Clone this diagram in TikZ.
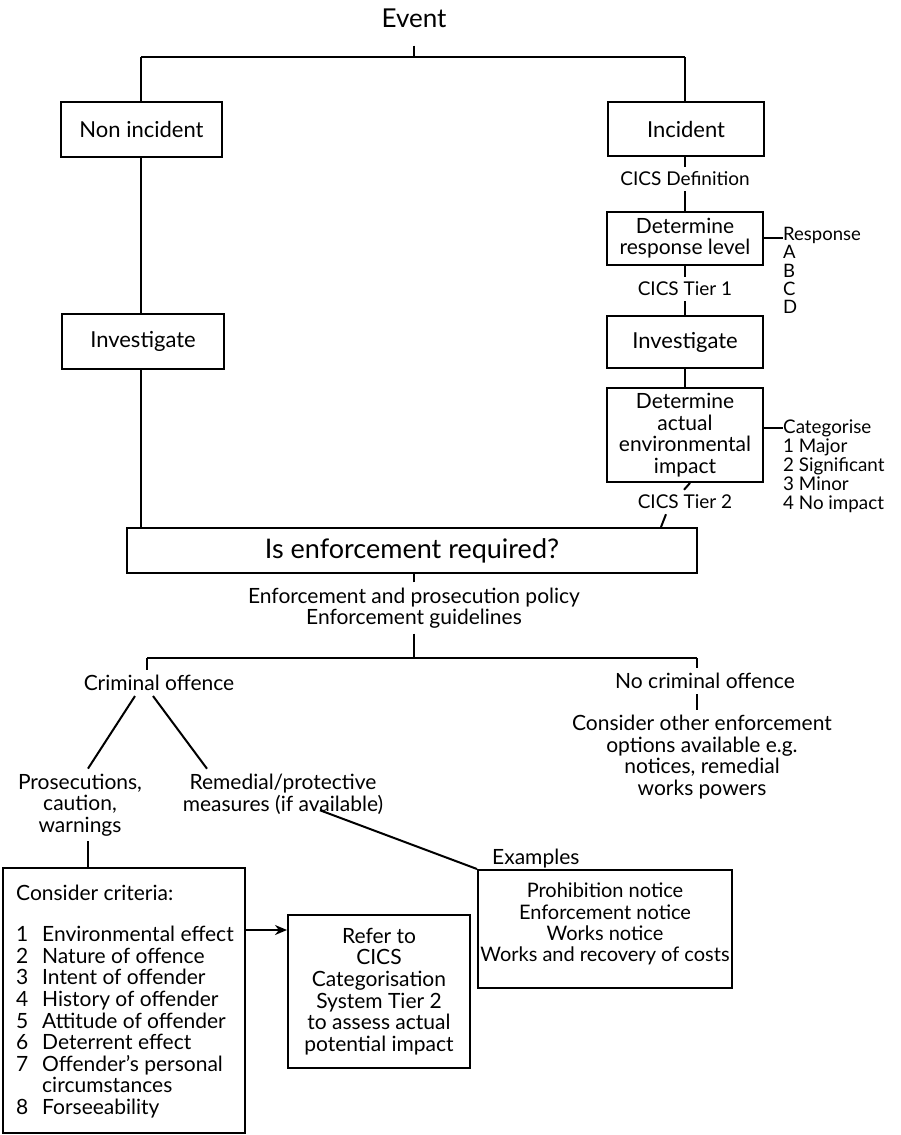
\documentclass[tikz,border=0pt]{standalone}
\usepackage{fontspec}
\setmainfont{Lato}
\usetikzlibrary{arrows.meta,calc}
\begin{document}
\begin{tikzpicture}[x=1pt,y=-1pt,
  every node/.style={font=\fontsize{21}{21.6}\selectfont, inner sep=0pt},
  box/.style={draw, line width=2pt, align=center},
  lbl/.style={align=center, inner ysep=5pt},
  cics/.style={lbl, font=\fontsize{19}{21}\selectfont},
  listtxt/.style={align=left, anchor=north west},
  conn/.style={line width=2pt},
]
\useasboundingbox (0,0) rectangle (900,1135);
% top part
\node[font=\fontsize{26}{28}\selectfont] (event) at (414,18) {Event};
\node[box, minimum width=161, minimum height=55, font=\fontsize{22}{22}\selectfont] (noninc) at (141.5,129.5) {Non incident};
\node[box, minimum width=156, minimum height=54, font=\fontsize{22}{22}\selectfont] (inc) at (686,129) {Incident};
\node[cics] (cdef) at (685,179) {CICS Definition};
\node[box, minimum width=156, minimum height=53] (resp) at (685,238) {Determine\\response level};
\node[cics] (t1) at (685,289) {CICS Tier 1};
\node[box, minimum width=156, minimum height=52, font=\fontsize{22}{22}\selectfont] (inv2) at (685,342) {Investigate};
\node[box, minimum width=156, minimum height=94] (det) at (685,435) {Determine\\actual\\environmental\\impact};
\node[cics] (t2) at (685,502) {CICS Tier 2};
\node[listtxt, font=\fontsize{18.5}{18.3}\selectfont] (rlist) at (783,227) {Response\\A\\B\\C\\D};
\node[listtxt, font=\fontsize{18.8}{18.8}\selectfont] (clist) at (783,420) {Categorise\\1 Major\\2 Significant\\3 Minor\\4 No impact};
\node[box, minimum width=162, minimum height=55, font=\fontsize{22}{22}\selectfont] (inv1) at (143,341.5) {Investigate};
\node[box, minimum width=570, minimum height=45, font=\fontsize{27}{28}\selectfont] (enf) at (412,550.5) {Is enforcement required?};
% middle
\node[lbl] (pol) at (414,608) {Enforcement and prosecution policy\\Enforcement guidelines};
\node[lbl] (crim) at (159,683) {Criminal offence};
\node[lbl] (nocrim) at (705,681) {No criminal offence};
\node[lbl] (other) at (702,757) {Consider other enforcement\\options available e.g.\\notices, remedial\\works powers};
\node[lbl] (pros) at (80,805) {Prosecutions,\\caution,\\warnings};
\node[lbl] (rem) at (283,794) {Remedial/protective\\measures (if available)};
% bottom
\node[box, minimum width=242, minimum height=265] (crit) at (124,1000.5) {};
\node[listtxt] (crittext) at (16,885) {Consider criteria:\\[19.4pt]
\makebox[26pt][l]{1}Environmental effect\\
\makebox[26pt][l]{2}Nature of offence\\
\makebox[26pt][l]{3}Intent of offender\\
\makebox[26pt][l]{4}History of offender\\
\makebox[26pt][l]{5}Attitude of offender\\
\makebox[26pt][l]{6}Deterrent effect\\
\makebox[26pt][l]{7}Offender's personal\\
\hspace*{26pt}circumstances\\
\makebox[26pt][l]{8}Forseeability};
\node[box, minimum width=182, minimum height=153] (refer) at (379,991.5) {Refer to\\CICS\\Categorisation\\System Tier 2\\to assess actual\\potential impact};
\node[box, minimum width=254, minimum height=118] (exbox) at (605,929) {};
\node[align=center, font=\fontsize{20}{21.2}\selectfont] (extext) at (605,924) {Prohibition notice\\Enforcement notice\\Works notice\\Works and recovery of costs};
\node[anchor=base west] (exlbl) at (492,864) {Examples};
% connectors
\coordinate (tm) at (414,57);
\coordinate (tl) at (141,57);
\coordinate (tr) at (685,57);
\draw[conn] ([yshift=-18pt]event.south) -- (tm);
\draw[conn] (tl) -- (tr);
\draw[conn] (tl) -- (noninc.north -| tl);
\draw[conn] (tr) -- (tr |- inc.north);
\draw[conn] (noninc.south -| tl) -- (inv1.north -| tl);
\draw[conn] (inv1.south -| tl) -- (enf.north -| tl);
\draw[conn] (inc.south -| tr) -- (cdef.north);
\draw[conn] (cdef.south) -- (resp.north);
\draw[conn] (resp.south) -- (t1.north);
\draw[conn] (t1.south) -- (inv2.north);
\draw[conn] (inv2.south) -- (det.north);
\draw[conn] ([xshift=5pt]det.south) -- ([xshift=-1pt]t2.north);
\draw[conn] ([xshift=-19pt]t2.south) -- ([xshift=249pt]enf.north);
\draw[conn] (resp.east) -- (resp.east -| rlist.west);
\draw[conn] ([yshift=7pt]det.east) -- ([yshift=7pt]det.east -| clist.west);
\draw[conn] (pol.north) -- (pol.north |- enf.south);
\coordinate (hm) at (414,658);
\coordinate (hl) at (147,658);
\coordinate (hr) at (697,658);
\draw[conn] (pol.south) -- (hm);
\draw[conn] (hl) -- (hr);
\draw[conn] (hl) -- (hl |- crim.north);
\draw[conn] (hr) -- (hr |- nocrim.north);
\draw[conn] (nocrim.south -| hr) -- (other.north -| hr);
\draw[conn] ([xshift=-24pt]crim.south) -- ([xshift=8pt]pros.north);
\draw[conn] ([xshift=-6pt]crim.south) -- ([xshift=-76pt]rem.north);
\draw[conn] ([xshift=37pt,yshift=9pt]rem.south) -- (exbox.north west);
\coordinate (pl) at (88,0);
\draw[conn] (pros.south -| pl) -- (crit.north -| pl);
\coordinate (ay) at (0,930);
\draw[conn,-{Stealth[length=12pt,width=10pt]}] (crit.east |- ay) -- (refer.west |- ay);
\end{tikzpicture}
\end{document}
